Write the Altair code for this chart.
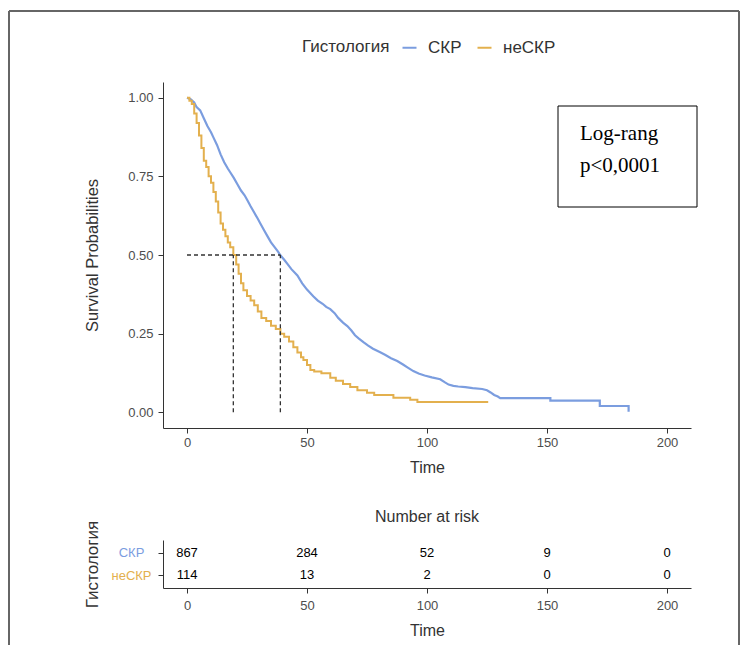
import altair as alt
import pandas as pd

groups = ["СКР", "неСКР"]
colors = ["#7B9DDF", "#E3B04E"]

skr_time = [0, 1.5, 3, 4, 5.5, 7, 8.5, 10, 11, 12.5, 14, 15.5, 17, 18, 19.5, 21, 22.5, 24, 25.1,
            26.5, 28, 29.5, 30.5, 32, 33.5, 35, 36.5, 38, 38.9, 40.5, 42, 43.5, 46, 48, 50, 52.6,
            54.5, 56.5, 58, 59.7, 61.5, 63, 65, 66.8, 68.5, 70, 71.5, 73.5, 75.5, 77.5, 80.5,
            82.5, 85, 87.6, 90, 92, 94.3, 96.5, 99, 102, 105.5, 107.5, 109, 111, 113, 116, 119,
            123, 125, 126.5, 128, 129.5, 130.5, 151.4, 151.4, 172, 172, 184, 184]
skr_surv = [1.0, 0.995, 0.985, 0.97, 0.96, 0.935, 0.91, 0.89, 0.874, 0.85, 0.82, 0.795, 0.775,
            0.763, 0.745, 0.725, 0.705, 0.69, 0.675, 0.655, 0.635, 0.615, 0.601, 0.58, 0.56, 0.54,
            0.525, 0.51, 0.499, 0.485, 0.47, 0.455, 0.435, 0.41, 0.39, 0.369, 0.355, 0.345, 0.335,
            0.328, 0.315, 0.30, 0.285, 0.274, 0.26, 0.245, 0.235, 0.223, 0.212, 0.202, 0.191,
            0.183, 0.172, 0.163, 0.152, 0.142, 0.131, 0.123, 0.117, 0.111, 0.105, 0.095, 0.088,
            0.084, 0.082, 0.08, 0.077, 0.074, 0.07, 0.063, 0.055, 0.05, 0.045, 0.045, 0.037,
            0.037, 0.02, 0.02, 0.002]

ne_time = [0, 1, 2, 3, 4, 5, 6, 7, 8, 9, 10, 11, 12, 13, 14, 15, 16, 17, 18, 19.3, 20.5, 21.5,
           22.5, 23.5, 25, 26.5, 28, 29.5, 31, 33, 35, 37, 38.9, 40.5, 42.5, 44.3, 46, 47.5, 48.5,
           50, 51.4, 53, 56, 59.7, 62, 65, 68, 71, 75, 78, 86, 93, 96, 125.5]
ne_surv = [1.0, 0.99, 0.98, 0.95, 0.92, 0.88, 0.84, 0.80, 0.78, 0.75, 0.73, 0.70, 0.67, 0.635,
           0.60, 0.58, 0.56, 0.54, 0.525, 0.50, 0.47, 0.44, 0.41, 0.388, 0.37, 0.355, 0.34, 0.32,
           0.30, 0.29, 0.275, 0.265, 0.25, 0.24, 0.225, 0.207, 0.19, 0.175, 0.166, 0.15, 0.134,
           0.13, 0.124, 0.11, 0.10, 0.09, 0.08, 0.07, 0.062, 0.055, 0.046, 0.04, 0.033, 0.033]

median_x = [0, 19.3, 38.9]
median_x2 = [38.9, 19.3, 38.9]
median_y = [0.5, 0.0, 0.0]
median_y2 = [0.5, 0.5, 0.5]

risk_times = [0, 50, 100, 150, 200]
risk_skr = [867, 284, 52, 9, 0]
risk_ne = [114, 13, 2, 0, 0]

x_ticks = [0, 50, 100, 150, 200]
y_ticks = [0, 0.25, 0.5, 0.75, 1.0]

W, H = 528, 346
FONT = "Liberation Sans"

skr_df = pd.DataFrame({"time": skr_time, "surv": skr_surv, "group": groups[0],
                       "idx": list(range(len(skr_time)))})
ne_df = pd.DataFrame({"time": ne_time, "surv": ne_surv, "group": groups[1]})
med_df = pd.DataFrame({"x": median_x, "x2": median_x2, "y": median_y, "y2": median_y2})
risk_df = pd.DataFrame({
    "time": risk_times + risk_times,
    "group": [groups[0]] * 5 + [groups[1]] * 5,
    "n": risk_skr + risk_ne,
})
one = pd.DataFrame({"k": [0]})

xs = alt.Scale(domain=[-10, 210], nice=False, zero=False)
ys = alt.Scale(domain=[-0.05, 1.05], nice=False, zero=False)
cs = alt.Scale(domain=groups, range=colors)

x_axis = alt.Axis(values=x_ticks, title="Time", labelFontSize=13, titleFontSize=16,
                  tickSize=5, labelPadding=3, titlePadding=10, grid=False)
y_axis = alt.Axis(values=y_ticks, format=".2f", title="Survival Probabilities",
                  labelFontSize=13, titleFontSize=16.5, tickSize=5, labelPadding=5,
                  titleX=-63, grid=False)
legend = alt.Legend(orient="none", legendX=139, legendY=-43, direction="horizontal",
                    titleOrient="left", title="Гистология", symbolType="stroke",
                    symbolSize=196, symbolStrokeWidth=2, labelFontSize=17, titleFontSize=17,
                    titleFontWeight="normal", labelColor="#333", titleColor="#333",
                    columnPadding=11, titlePadding=11, labelOffset=10)

skr_line = alt.Chart(skr_df).mark_line(strokeWidth=2.2).encode(
    x=alt.X("time:Q", scale=xs, axis=x_axis),
    y=alt.Y("surv:Q", scale=ys, axis=y_axis),
    order="idx:Q",
    color=alt.Color("group:N", scale=cs, legend=legend),
)
ne_line = alt.Chart(ne_df).mark_line(interpolate="step-after", strokeWidth=2).encode(
    x=alt.X("time:Q", scale=xs, axis=x_axis),
    y=alt.Y("surv:Q", scale=ys, axis=y_axis),
    color=alt.Color("group:N", scale=cs, legend=legend),
)

medians = alt.Chart(med_df).mark_rule(strokeDash=[4, 3], color="#333", strokeWidth=1.3).encode(
    x=alt.X("x:Q", scale=xs, title="Time"),
    x2="x2:Q",
    y=alt.Y("y:Q", scale=ys, title="Survival Probabilities"),
    y2="y2:Q",
)

box = alt.Chart(one).mark_rect(fill="white", stroke="black", strokeWidth=1).encode(
    x=alt.value(395), x2=alt.value(534), y=alt.value(24), y2=alt.value(125))
box_text = alt.Chart(one).mark_text(font="Liberation Serif", fontSize=21, align="left",
                                    baseline="top", lineHeight=32, color="black").encode(
    x=alt.value(417), y=alt.value(41), text=alt.value(["Log-rang", "p<0,0001"]))

nar = alt.Chart(one).mark_text(fontSize=16, color="#333", font=FONT).encode(
    x=alt.value(W / 2), y=alt.value(435), text=alt.value("Number at risk"))

frame_left = alt.Chart(one).mark_rule(color="#666", strokeWidth=2).encode(
    x=alt.value(-154), y=alt.value(-71), y2=alt.value(563))
frame_top = alt.Chart(one).mark_rule(color="#666", strokeWidth=2).encode(
    x=alt.value(-154), x2=alt.value(576), y=alt.value(-71))
frame_right = alt.Chart(one).mark_rule(color="#666", strokeWidth=2).encode(
    x=alt.value(576), y=alt.value(-71), y2=alt.value(563))

main = alt.layer(skr_line, ne_line, medians, box, box_text, nar,
                 frame_left, frame_top, frame_right)

risk = alt.Chart(risk_df).mark_text(fontSize=13, color="black", font=FONT).encode(
    x=alt.X("time:Q", scale=xs,
            axis=alt.Axis(orient="bottom", offset=160, values=x_ticks, title="Time",
                          labelFontSize=13, titleFontSize=16, tickSize=5, labelPadding=6,
                          titlePadding=10, grid=False)),
    y=alt.Y("group:N",
            scale=alt.Scale(type="point", domain=groups, range=[458, 506], padding=0.55),
            axis=alt.Axis(orient="left", title="Гистология", titleFontSize=17,
                          labelFontSize=13, tickSize=5, labelPadding=27, labelAlign="center",
                          titleX=-62,
                          labelColor=alt.condition("datum.value == 'СКР'",
                                                   alt.value(colors[0]), alt.value(colors[1])))),
    text="n:Q",
)

chart = alt.layer(main, risk).resolve_scale(x="independent", y="independent").properties(
    width=W, height=H, padding={"left": 0, "top": 2, "right": 0, "bottom": 0}
).configure_view(stroke=None).configure_axis(
    domainColor="#333", tickColor="#333", labelColor="#4d4d4d", titleColor="#333",
    labelFont=FONT, titleFont=FONT, titleFontWeight="normal"
).configure_legend(labelFont=FONT, titleFont=FONT).configure_text(font=FONT)

chart.save("out.html", embed_options={"renderer": "svg", "actions": False})
